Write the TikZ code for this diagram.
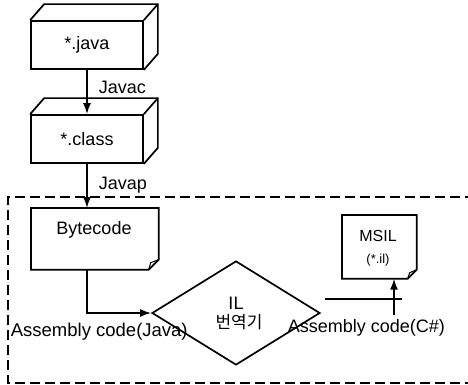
\documentclass[tikz,border=0pt]{standalone}
\usepackage{fontspec}
\setmainfont{Liberation Sans}
\newfontfamily\kr{Noto Sans CJK KR}
\usetikzlibrary{arrows.meta,shapes.geometric}
\begin{document}
\begin{tikzpicture}[x=1pt,y=-1pt,
  line width=1.7pt,
  every node/.style={font=\fontsize{18}{21}\selectfont},
  cube/.style={draw,minimum width=112pt,minimum height=48pt,inner sep=0pt},
  doc/.style={inner sep=0pt,align=center},
  lbl/.style={inner sep=0pt,anchor=west},
  arr/.style={-{Latex[length=11pt,width=8pt]}},
  dashbox/.style={dash pattern=on 10pt off 5pt}]
\useasboundingbox (0,0) rectangle (468,385);
\clip (0,0) rectangle (468,385);
% dashed area
\draw[dashbox] (490,197) -- (8,197) -- (8,383) -- (490,383);
% 3D boxes
\node[cube] (jv) at (87,45) {*.java};
\node[cube] (cl) at (87,139) {*.class};
\foreach \b in {jv,cl}{
  \draw (\b.north west) -- +(14,-16) -- ([shift={(14,-16)}]\b.north east)
        -- ([shift={(14,-16)}]\b.south east) -- (\b.south east);
  \draw (\b.north east) -- +(14,-16);
}
% Bytecode document
\node[doc,minimum width=126pt,minimum height=60pt,anchor=north west] (bc) at (31,208) {};
\node[inner sep=0pt] (bct) at (94,230) {Bytecode};
\draw (bc.north west) -- (bc.north east) -- ([shift={(0,-10)}]bc.south east)
      -- ([shift={(-10,0)}]bc.south east) -- (bc.south west) -- cycle;
\draw[line width=1pt] ([shift={(-10,0)}]bc.south east) -- ([shift={(-8,-7)}]bc.south east) -- ([shift={(0,-10)}]bc.south east);
% MSIL document
\node[doc,minimum width=73pt,minimum height=62pt,anchor=north west] (ms) at (342,215) {};
\node[inner sep=0pt,font=\fontsize{16}{18}\selectfont] (mst) at (378,236) {MSIL};
\node[inner sep=0pt,font=\fontsize{13}{15}\selectfont] (msx) at (378,260) {(*.il)};
\draw (ms.north west) -- (ms.north east) -- ([shift={(0,-9)}]ms.south east)
      -- ([shift={(-9,0)}]ms.south east) -- (ms.south west) -- cycle;
\draw[line width=1pt] ([shift={(-9,0)}]ms.south east) -- ([shift={(-7,-6)}]ms.south east) -- ([shift={(0,-9)}]ms.south east);
% diamond
\node[draw,diamond,minimum width=168pt,minimum height=104pt,inner sep=0pt,align=center] (dia) at (236,313) {};
\node[inner sep=0pt] (dil) at (236,303) {IL};
\node[inner sep=0pt,font=\kr\fontsize{17}{19}\selectfont] (dkr) at (239,322) {번역기};
% connectors
\draw[arr] (jv.south) -- (cl.north);
\draw[arr] (cl.south) -- (bc.north -| cl.south);
\draw[arr] (bc.south -| cl.south) |- (dia.west);
\coordinate (h1) at (325,299);
\coordinate (h2) at (402,299);
\coordinate (v1) at (394,315);
\draw[line width=1.2pt] (h1) -- (h2);
\draw[arr] (v1) -- (v1 |- ms.south);
% labels
\node[lbl] (ljc) at (98,87) {Javac};
\node[lbl] (ljp) at (98,185) {Javap};
\node[lbl,font=\fontsize{18.5}{21}\selectfont] (laj) at (10,332) {Assembly code(Java)};
\node[lbl] (lac) at (287,328) {Assembly code(C\#)};
\end{tikzpicture}
\end{document}
